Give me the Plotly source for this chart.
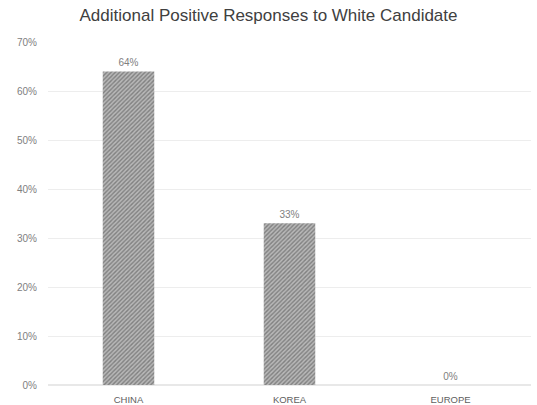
import plotly.graph_objects as go

categories = ["CHINA", "KOREA", "EUROPE"]
values = [0.64, 0.33, 0.0]
labels = ["64%", "33%", "0%"]
tick_vals = [0, 0.1, 0.2, 0.3, 0.4, 0.5, 0.6, 0.7]
tick_text = ["0%", "10%", "20%", "30%", "40%", "50%", "60%", "70%"]

fig = go.Figure(go.Bar(
    x=categories, y=values, text=labels, textposition="outside",
    textfont=dict(size=10, color="#808080", family="Liberation Sans"),
    cliponaxis=False,
    marker=dict(color="#9a9a9a", line=dict(width=0),
                pattern=dict(shape="/", fgcolor="#484848", bgcolor="#b8b8b8", size=3, solidity=0.45)),
))
fig.update_layout(
    width=537, height=405,
    margin=dict(l=48, r=6, t=42, b=20, autoexpand=False),
    paper_bgcolor="white", plot_bgcolor="white",
    bargap=0.68,
    showlegend=False,
    title=dict(text="Additional Positive Responses to White Candidate", x=0.5, xanchor="center",
               y=0.962, yanchor="middle",
               font=dict(size=17, color="#404040", family="Liberation Sans")),
    font=dict(family="Liberation Sans"),
)
fig.update_yaxes(range=[0, 0.7], tickvals=tick_vals, ticktext=tick_text, automargin=False,
                 showgrid=True, gridcolor="#ededed", gridwidth=1, zeroline=True, zerolinecolor="#e8e8e8",
                 showline=False, ticks="", tickfont=dict(size=10, color="#808080"), ticklabelstandoff=10)
fig.update_xaxes(showgrid=False, showline=False, ticks="", tickfont=dict(size=9.5, color="#606060"),
                 ticklabelstandoff=7, automargin=False)
fig.write_html("out.html")
